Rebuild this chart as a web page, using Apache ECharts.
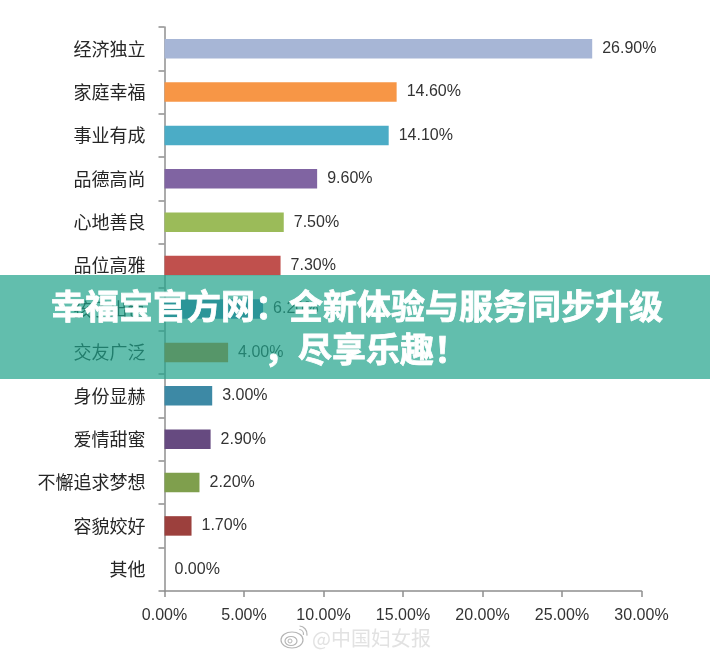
<!DOCTYPE html>
<html>
<head>
<meta charset="utf-8">
<style>
  html, body { margin: 0; padding: 0; background: #fff; }
  #chart { width: 710px; height: 655px; }
</style>
<script src="https://cdn.jsdelivr.net/npm/echarts@6/dist/echarts.min.js"></script>
</head>
<body>
<div id="chart"></div>
<script>
const categories = ['经济独立', '家庭幸福', '事业有成', '品德高尚', '心地善良', '品位高雅', '孩子出色', '交友广泛', '身份显赫', '爱情甜蜜', '不懈追求梦想', '容貌姣好', '其他'];
const values = [26.9, 14.6, 14.1, 9.6, 7.5, 7.3, 6.2, 4.0, 3.0, 2.9, 2.2, 1.7, 0];
const barColors = ['#a7b6d6', '#f79646', '#4bacc6', '#8064a2', '#9bbb59', '#c0504d', '#4677ba', '#d87a1c', '#3d89a5', '#664a80', '#7f9f4d', '#9c403d', '#999999'];
const tickLabels = ['0.00%', '5.00%', '10.00%', '15.00%', '20.00%', '25.00%', '30.00%'];
const bannerLines = ['幸福宝官方网：全新体验与服务同步升级', '，尽享乐趣！'];
const watermark = '@中国妇女报';

const chart = echarts.init(document.getElementById('chart'));

chart.setOption({
  backgroundColor: '#fff',
  animation: false,
  grid: { left: 164.5, right: 68.5, top: 27, bottom: 64 },
  xAxis: {
    type: 'value',
    min: 0,
    max: 30,
    interval: 5,
    splitLine: { show: false },
    axisLine: { show: true, lineStyle: { color: '#8f8f8f', width: 1.5 } },
    axisTick: { show: true, length: 6, lineStyle: { color: '#8f8f8f', width: 1.5 } },
    axisLabel: {
      color: '#333',
      fontFamily: 'Liberation Sans',
      fontSize: 16,
      margin: 17,
      formatter: function (v) { return tickLabels[v / 5]; }
    }
  },
  yAxis: {
    type: 'category',
    inverse: true,
    data: categories,
    axisLine: { show: true, lineStyle: { color: '#8f8f8f', width: 1.5 } },
    axisTick: { show: true, length: 6, lineStyle: { color: '#8f8f8f', width: 1.5 } },
    axisLabel: {
      color: '#262626',
      fontFamily: 'Noto Sans CJK SC',
      fontSize: 18,
      margin: 19,
      padding: [0, 0, 3, 0]
    }
  },
  series: [{
    type: 'bar',
    barWidth: 19.5,
    data: values.map(function (v, i) {
      return { value: v, itemStyle: { color: barColors[i] } };
    }),
    label: {
      show: true,
      position: 'right',
      distance: 10,
      color: '#333',
      fontFamily: 'Liberation Sans',
      fontSize: 16,
      padding: [2, 0, 0, 0],
      formatter: function (p) { return p.value.toFixed(2) + '%'; }
    }
  }],
  graphic: [
    // 横幅
    {
      type: 'rect', z: 100,
      shape: { x: 0, y: 275, width: 710, height: 104 },
      style: { fill: 'rgba(32,162,138,0.7)' }
    },
    {
      type: 'text', z: 101, x: 357, y: 306,
      style: {
        text: bannerLines[0], fill: '#fff', stroke: '#fff', lineWidth: 0.8, align: 'center', verticalAlign: 'middle',
        fontFamily: 'Noto Sans CJK SC', fontWeight: 'bold', fontSize: 34
      }
    },
    {
      type: 'text', z: 101, x: 366, y: 349,
      style: {
        text: bannerLines[1], fill: '#fff', stroke: '#fff', lineWidth: 0.8, align: 'center', verticalAlign: 'middle',
        fontFamily: 'Noto Sans CJK SC', fontWeight: 'bold', fontSize: 34
      }
    },
    // 水印
    {
      type: 'text', z: 50, x: 312, y: 638,
      style: {
        text: watermark, fill: '#e2e2e2', verticalAlign: 'middle',
        fontFamily: 'Noto Sans CJK SC', fontSize: 20,
        shadowBlur: 5, shadowColor: '#dddddd'
      }
    },
    { type: 'ellipse', z: 50, shape: { cx: 292, cy: 640, rx: 11, ry: 8 }, style: { fill: 'none', stroke: '#b5b5b5', lineWidth: 1.2 } },
    { type: 'ellipse', z: 50, shape: { cx: 291, cy: 641, rx: 6, ry: 4.5 }, style: { fill: 'none', stroke: '#b5b5b5', lineWidth: 1.2 } },
    { type: 'circle', z: 50, shape: { cx: 290, cy: 641, r: 2 }, style: { fill: 'none', stroke: '#b5b5b5', lineWidth: 1 } },
    { type: 'arc', z: 50, shape: { cx: 299, cy: 634, r: 8, startAngle: -1.5, endAngle: 0.2 }, style: { fill: 'none', stroke: '#b5b5b5', lineWidth: 1.2 } },
    { type: 'arc', z: 50, shape: { cx: 299, cy: 634, r: 4.5, startAngle: -1.5, endAngle: 0.2 }, style: { fill: 'none', stroke: '#b5b5b5', lineWidth: 1.2 } }
  ]
});
</script>
</body>
</html>
